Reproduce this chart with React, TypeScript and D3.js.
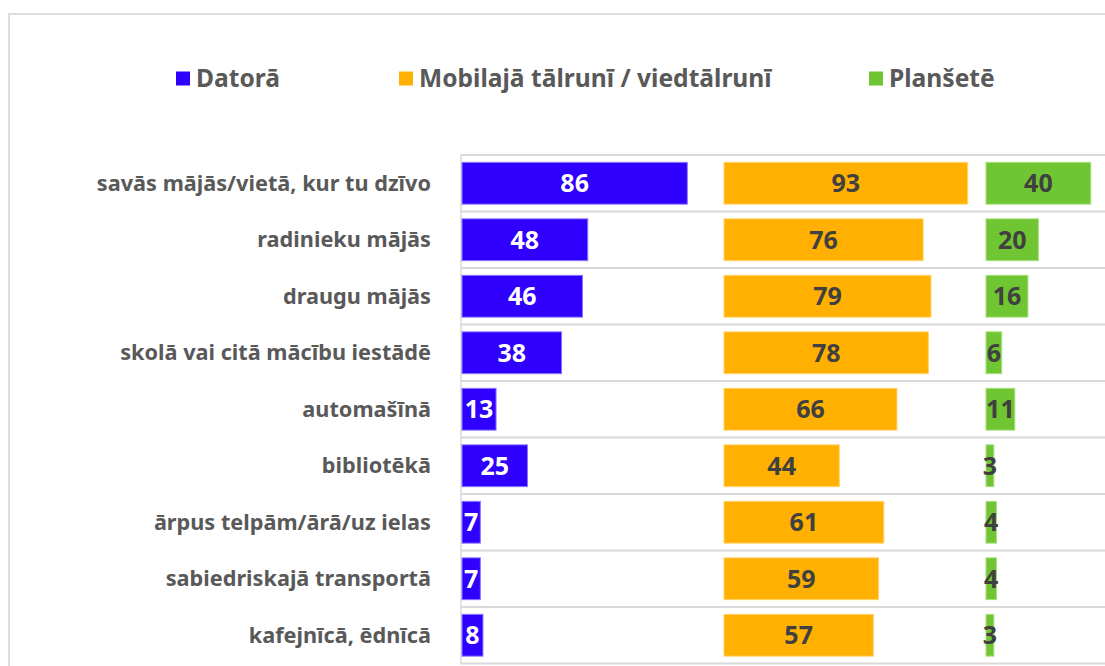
import React from "react";
import * as d3 from "d3";

const categories = [
  "savās mājās/vietā, kur tu dzīvo",
  "radinieku mājās",
  "draugu mājās",
  "skolā vai citā mācību iestādē",
  "automašīnā",
  "bibliotēkā",
  "ārpus telpām/ārā/uz ielas",
  "sabiedriskajā transportā",
  "kafejnīcā, ēdnīcā",
];
const seriesNames = ["Datorā", "Mobilajā tālrunī / viedtālrunī", "Planšetē"];
const dator = [86, 48, 46, 38, 13, 25, 7, 7, 8];
const mobilais = [93, 76, 79, 78, 66, 44, 61, 59, 57];
const planshete = [40, 20, 16, 6, 11, 3, 4, 4, 3];

const seriesValues = [dator, mobilais, planshete];
const colors = ["#3000FF", "#FFB000", "#70C532"];
const strokeColors = ["#8a78ff", "#ffd36b", "#a8e07e"];
const labelColors = ["#FFFFFF", "#404040", "#404040"];
const legendX = [176, 399, 869];

const W = 1105;
const H = 666;
const FONT = "'Noto Sans', sans-serif";

export default function App() {
  const plotTop = 155;
  const plotBottom = 663.5;
  const plotLeft = 461;
  const y = d3
    .scaleBand<string>()
    .domain(categories)
    .range([plotTop, plotBottom])
    .paddingInner(0.26)
    .paddingOuter(0.13);
  const step = y.step();
  const panelStarts = [462, 724, 986];
  const xs = panelStarts.map((s) => d3.scaleLinear().domain([0, 100]).range([s, s + 262]));

  return (
    <svg
      width={W}
      height={H}
      style={{ position: "fixed", left: 0, top: 0, background: "#fff" }}
      fontFamily={FONT}
    >
      <rect x={9} y={14} width={W + 20} height={H + 20} fill="#fff" stroke="#dddddd" strokeWidth={2} />

      {/* legend */}
      {seriesNames.map((n, i) => (
        <g key={n}>
          <rect x={legendX[i]} y={71.5} width={14} height={14} fill={colors[i]} />
          <text x={legendX[i] + 20} y={87} fontSize={24.6} fontWeight={700} fill="#595959">
            {n}
          </text>
        </g>
      ))}

      {/* grid lines */}
      <line x1={plotLeft} x2={W} y1={plotTop} y2={plotTop} stroke="#d9d9d9" strokeWidth={2} />
      {categories.map((c) => {
        const ly = (y(c) as number) + y.bandwidth() + (step - y.bandwidth()) / 2;
        return <line key={c} x1={plotLeft} x2={W} y1={ly} y2={ly} stroke="#d9d9d9" strokeWidth={2} />;
      })}
      <line x1={plotLeft} x2={plotLeft} y1={plotTop} y2={plotBottom + 1} stroke="#d9d9d9" strokeWidth={1.5} />

      {/* category labels */}
      {categories.map((c) => (
        <text
          key={c}
          x={431}
          y={(y(c) as number) + y.bandwidth() / 2}
          dy="0.35em"
          textAnchor="end"
          fontSize={21.7}
          fontWeight={700}
          fill="#595959"
        >
          {c}
        </text>
      ))}

      {/* bars */}
      {seriesValues.map((vals, si) => (
        <g key={si}>
          {vals.map((v, ci) => {
            const x0 = xs[si](0);
            const x1 = xs[si](v);
            const yy = y(categories[ci]) as number;
            return (
              <g key={ci}>
                <rect
                  x={x0}
                  y={yy}
                  width={x1 - x0}
                  height={y.bandwidth()}
                  fill={colors[si]}
                  stroke={strokeColors[si]}
                  strokeWidth={1}
                />
                <text
                  x={(x0 + x1) / 2}
                  y={yy + y.bandwidth() / 2}
                  dy="0.36em"
                  textAnchor="middle"
                  fontSize={25}
                  fontWeight={700}
                  fill={labelColors[si]}
                >
                  {v}
                </text>
              </g>
            );
          })}
        </g>
      ))}
    </svg>
  );
}
